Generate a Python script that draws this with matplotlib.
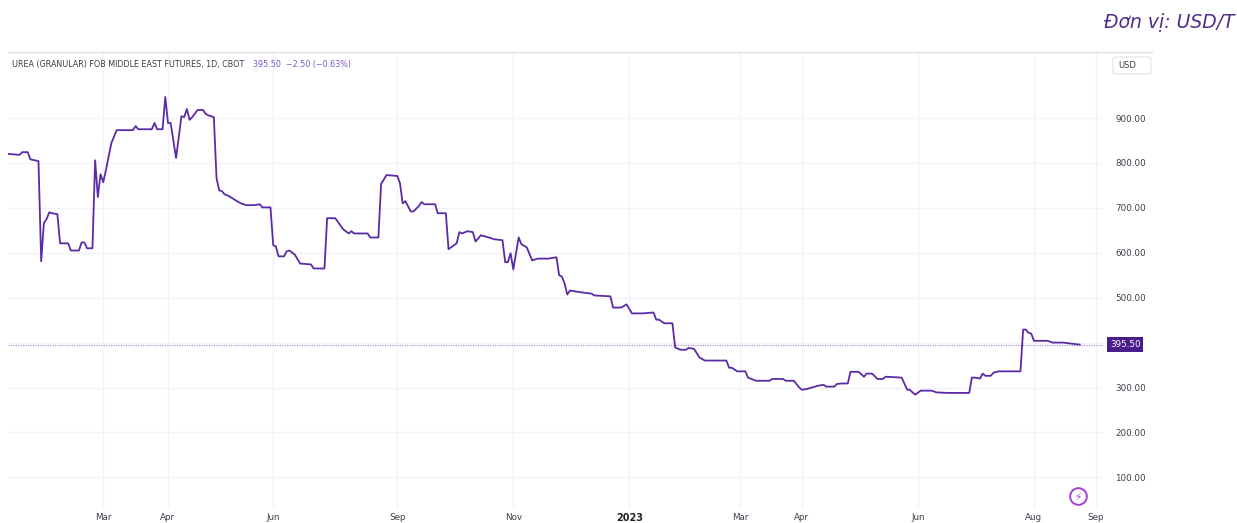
import matplotlib
matplotlib.use("Agg")
import matplotlib.pyplot as plt
from matplotlib.patches import FancyBboxPatch
from matplotlib.lines import Line2D

# ---------------- data (bar index, price USD/T) ----------------
bars = [0, 4, 5, 7, 8, 11, 12, 13, 14, 15, 16, 18, 19, 22, 23, 26, 27, 28, 29, 31,
        32, 33, 34, 35, 36, 38, 40, 46, 47, 48, 53, 54, 55, 57, 58, 59, 60, 62, 64, 65,
        66, 67, 68, 70, 72, 73, 74, 76, 77, 78, 79, 80, 81, 83, 84, 86, 88, 91, 93, 94,
        97, 98, 99, 100, 102, 103, 104, 106, 108, 112, 113, 117, 118, 121, 124, 126, 127, 128, 133, 134,
        137, 138, 140, 144, 145, 146, 147, 149, 150, 152, 153, 154, 158, 159, 162, 163, 166, 167, 168, 170,
        172, 173, 175, 178, 180, 183, 184, 185, 186, 187, 189, 190, 192, 194, 196, 200, 203, 204, 205, 206,
        207, 208, 212, 216, 217, 223, 224, 227, 229, 231, 235, 239, 240, 241, 243, 246, 247, 249, 251, 252,
        254, 256, 258, 266, 267, 268, 270, 273, 274, 277, 282, 283, 287, 288, 291, 293, 294, 296, 300, 302,
        303, 306, 307, 309, 311, 312, 315, 317, 318, 320, 322, 324, 325, 331, 333, 334, 335, 336, 338, 342,
        344, 348, 356, 357, 358, 360, 361, 362, 364, 365, 367, 375, 376, 377, 378, 379, 380, 385, 387, 391,
        392, 397]
prices = [820, 818, 824, 824, 808, 804, 581, 666, 675, 690, 688, 686, 621, 621, 605, 605, 623, 623, 610, 610,
          806, 724, 775, 757, 784, 844, 873, 873, 882, 875, 875, 889, 875, 875, 947, 889, 889, 811, 904, 902,
          920, 896, 902, 918, 918, 909, 906, 902, 766, 739, 737, 730, 728, 721, 717, 710, 706, 706, 708, 701,
          701, 617, 614, 592, 592, 603, 605, 596, 576, 574, 565, 565, 677, 677, 652, 643, 648, 643, 643, 634,
          634, 753, 773, 771, 755, 710, 715, 692, 692, 704, 713, 708, 708, 688, 688, 608, 621, 646, 643, 648,
          646, 625, 639, 634, 630, 628, 579, 579, 599, 563, 634, 619, 612, 583, 587, 587, 590, 550, 547, 532,
          507, 516, 512, 509, 505, 503, 478, 478, 485, 465, 465, 467, 451, 451, 443, 443, 389, 384, 384, 388,
          386, 367, 360, 360, 344, 344, 336, 336, 322, 315, 315, 319, 319, 315, 315, 300, 295, 297, 304, 306,
          302, 302, 308, 309, 309, 335, 335, 324, 331, 331, 319, 319, 324, 322, 295, 295, 289, 284, 293, 293,
          289, 288, 288, 322, 322, 320, 331, 326, 326, 333, 336, 336, 429, 429, 422, 420, 404, 404, 400, 400,
          399, 395.5]

tick_bars = [35, 59, 98, 144, 187, 230, 271, 294, 337, 380, 403]
tick_labels = ["Mar", "Apr", "Jun", "Sep", "Nov", "2023", "Mar", "Apr", "Jun", "Aug", "Sep"]
price_ticks = [100, 200, 300, 400, 500, 600, 700, 800, 900]

last_price = 395.50
title = "UREA (GRANULAR) FOB MIDDLE EAST FUTURES, 1D, CBOT"
quote = "395.50  \u22122.50 (\u22120.63%)"
unit_text = "Đơn vị: USD/T"

LINE = "#5b2ba6"
GRID = "#f0f3fa"
TXT = "#3c3f4a"

W, H = 1237, 523
fig = plt.figure(figsize=(W / 100, H / 100), dpi=100)
fig.patch.set_facecolor("white")

def fx(px):
    return px / W

def fy(py):
    return 1 - py / H

ax_left, ax_right, ax_top, ax_bot = 8, 1103, 52, 509
ax = fig.add_axes([fx(ax_left), fy(ax_bot), fx(ax_right - ax_left), fy(ax_top) - fy(ax_bot)])
ax.set_xlim(-0.3, 405.6)
ax.set_ylim(29.5, 1047)

for s in ax.spines.values():
    s.set_visible(False)

ax.set_yticks(price_ticks)
# the 400 label is hidden behind the last-price marker
ax.set_yticklabels(["" if abs(v - last_price) < 20 else f"{v:.2f}" for v in price_ticks])
ax.yaxis.tick_right()
ax.tick_params(axis="y", length=0, pad=9, labelsize=6.3, labelcolor=TXT)
ax.set_xticks(tick_bars)
ax.set_xticklabels(tick_labels)
ax.tick_params(axis="x", length=0, pad=3, labelsize=6.3, labelcolor=TXT)
for lbl in ax.get_xticklabels():
    if lbl.get_text() == "2023":
        lbl.set_fontweight("bold")
        lbl.set_fontsize(7)
        lbl.set_color("#222222")

ax.grid(True, color=GRID, linewidth=1.0)
ax.set_axisbelow(True)

ax.axhline(last_price, color="#9a82d6", linestyle=(0, (1, 1.2)), linewidth=0.8)
ax.plot(bars, prices, color=LINE, linewidth=1.3, solid_joinstyle="round", zorder=3)

# price label box on scale
ax.annotate(f"{last_price:.2f}", xy=(1.0, last_price), xycoords=("axes fraction", "data"),
            xytext=(5, 0), textcoords="offset points", ha="left", va="center",
            fontsize=6.3, color="white",
            bbox=dict(boxstyle="square,pad=0.3", facecolor="#4a1c8c", edgecolor="none"))

# top border
fig.add_artist(Line2D([fx(8), fx(1152)], [fy(52), fy(52)], color="#e0e3eb", linewidth=1.0))

# USD box
fig.add_artist(FancyBboxPatch((fx(1113), fy(74)), fx(38), fy(57) - fy(74),
                              boxstyle="round,pad=0,rounding_size=0.003",
                              facecolor="white", edgecolor="#e0e3eb", linewidth=0.8))
fig.text(fx(1118), fy(65.5), "USD", fontsize=6, color=TXT, ha="left", va="center")

# title and quote
fig.text(fx(12), fy(65), title, fontsize=5.8, color=TXT, ha="left", va="center")
fig.text(fx(253), fy(65), quote, fontsize=5.8, color="#7e57c2", ha="left", va="center")

# unit label
fig.text(fx(1235), fy(23), unit_text, fontsize=13.5, style="italic", color="#4f2c8a",
         ha="right", va="center", family="DejaVu Sans")

# lightning icon
fig.add_artist(Line2D([fx(1078)], [fy(496)], marker="o", markersize=12, markerfacecolor="white",
                      markeredgecolor="#a440d0", markeredgewidth=1.4, linestyle="none"))
fig.text(fx(1078), fy(496.5), "\u26a1", fontsize=7.5, color="#a440d0", ha="center", va="center")

fig.savefig("out.png", dpi=100)
